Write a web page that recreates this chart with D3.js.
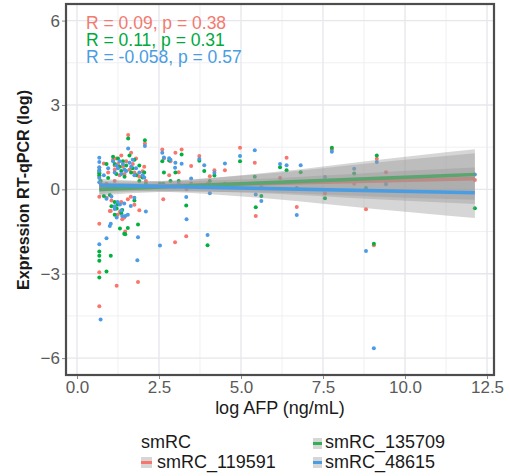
<!DOCTYPE html>
<html>
<head>
<meta charset="utf-8">
<script src="https://cdn.jsdelivr.net/npm/d3@7"></script>
<style>
body { margin: 0; background: #fff; }
text { font-family: 'Liberation Sans', Arial, sans-serif; }
</style>
</head>
<body>
<svg id="chart" width="510" height="476"></svg>
<script>
// Data //
const afp = [12.13, 9.42, 9.14, 9.05, 8.81, 8.45, 7.77, 7.56, 6.82, 6.70, 6.39, 6.19, 5.62, 5.42, 5.45,
    4.97, 4.51, 4.19, 4.05, 3.98, 3.88, 3.73, 3.48, 3.33, 3.34, 3.19, 3.00, 2.99, 3.10, 2.81,
    2.60, 2.63, 2.53, 2.10, 2.07, 1.90, 1.86, 1.84, 1.56, 1.64, 1.55, 1.47, 1.44, 1.38, 1.31,
    1.24, 1.21, 1.15, 1.03, 1.00, 0.90, 0.90, 0.82, 0.68, 0.68, 0.68, 0.68, 0.68, 0.68, 0.72,
    1.10, 1.15, 1.20, 1.25, 1.30, 1.35, 1.40, 1.45, 1.50, 1.60, 1.65, 1.70, 1.75, 1.80, 1.90,
    2.00, 2.05, 2.65, 2.85, 0.68, 0.95, 1.05, 1.35, 1.75, 1.15]

const smRC119591 = [0.33, 0.61, 1.09, -1.99, -0.71, 0.20, 1.42, -0.15, 0.25, -0.63, 1.12, 0.40, 0.10, 0.95, -0.95,
    1.48, 0.68, 0.68, 0.47, 0.20, 0.10, 1.19, 0.83, -1.67, 0.00, 1.42, 1.30, -1.88, 0.61, 0.50,
    1.42, -0.35, 0.10, 0.30, 1.63, -0.74, -3.29, 0.50, 1.93, -0.26, -0.35, -1.50, -1.00, -1.06, -0.80,
    -0.90, -3.43, 0.30, -0.77, -0.77, 0.20, -0.30, 0.92, -4.16, -2.95, -1.22, 0.77, -0.26, 0.60, 0.20,
    1.05, 0.70, 1.10, 0.90, 0.50, 1.20, 0.80, 0.55, 1.00, 0.70, 1.30, 0.90, 0.60, 1.10, 0.45,
    0.64, 0.80, 1.10, 1.00, 0.45, 0.60, -0.40, -0.45, -0.55, 0.85]

const smRC135709 = [-0.67, 0.27, 1.20, -1.93, 0.05, 0.56, 1.48, -0.32, 0.61, 0.05, 0.68, 0.79, -0.24, 0.45, -0.64,
    1.00, 0.20, 0.49, 0.30, -1.99, 0.65, 1.02, 0.20, -0.57, 0.10, 1.24, 0.60, 0.10, 0.30, 1.03,
    1.00, 0.20, 0.20, 0.20, 1.75, 0.30, -1.25, 0.10, 1.81, 0.10, -1.37, -1.60, -1.58, -0.73, -1.39,
    -0.54, -0.68, -0.45, -2.36, -0.20, -2.92, 0.90, -0.24, -2.21, -3.13, -2.36, -2.54, 0.67, 0.57, 0.30,
    1.16, 0.90, 0.55, 1.10, 0.80, 0.65, 1.00, 0.45, 0.85, 1.20, 0.60, 0.75, 1.05, 0.50, 0.85,
    0.42, 0.60, 0.60, 0.30, 0.50, 0.40, -0.60, -0.85, -0.40, -0.90]

const smRC48615 = [0.53, 0.18, 0.97, -5.65, -2.19, 0.73, 1.34, 0.44, 0.86, -0.91, 0.86, 0.90, -0.41, 1.39, -0.18,
    1.19, 0.92, 0.59, -0.14, -1.62, 0.86, 1.08, 0.39, -0.27, -1.06, 0.91, 0.95, 0.77, 0.20, 1.11,
    1.30, 0.10, -2.00, -0.79, 1.54, 0.10, -1.70, -2.52, 1.45, -0.59, -0.90, -0.95, -0.50, -0.95, -0.54,
    -0.45, -1.00, -0.60, -1.22, -1.30, -1.74, -0.33, 0.50, -1.95, 1.12, 0.97, 0.79, 0.65, 0.40, -4.63,
    1.00, 0.60, 0.85, 0.75, 1.00, 0.55, 0.90, 0.70, 0.65, 0.95, 0.80, 1.05, 0.50, 0.75, 0.60,
    0.50, 0.42, 1.13, 1.05, 0.25, 0.75, -0.25, -0.75, -0.30, -0.70]

const seriesNames = ['smRC_119591', 'smRC_135709', 'smRC_48615']
const seriesValues = [smRC119591, smRC135709, smRC48615]
const pointColors = ['#F8766D', '#00B140', '#4C9BE6']
const lineColors = ['#F8766D', '#33AE55', '#4A9DE2']
const textColors = ['#F27A70', '#00A93E', '#4A9DE2']

// fitted lines and confidence band
const fitAfp = [0.68, 12.13]
const fitStart = [0.07, 0.0, 0.15]
const fitEnd = [0.38, 0.53, -0.12]
const bandAfp = [0.68, 1.2, 1.8, 2.5, 3.5, 4.5, 6, 7.5, 9, 10.5, 12.13]
const bandHalf = [0.24, 0.2, 0.18, 0.18, 0.21, 0.27, 0.37, 0.5, 0.64, 0.77, 0.9]

const corR = ['0.09', '0.11', '-0.058']
const corP = ['0.38', '0.31', '0.57']

const xMajor = [0, 2.5, 5, 7.5, 10, 12.5]
const xMinor = [1.25, 3.75, 6.25, 8.75, 11.25]
const yMajor = [-6, -3, 0, 3, 6]
const yMinor = [-4.5, -1.5, 1.5, 4.5]

// Scales //
const panel = { left: 66, right: 494, top: 4, bottom: 375 }

const x = d3.scaleLinear().domain([-0.335, 12.713]).range([panel.left, panel.right])
const y = d3.scaleLinear().domain([-6.6, 6.59]).range([panel.bottom, panel.top])

const svg = d3.select('#chart')

// Grid //
const grid = svg.append('g')

grid.selectAll('.gx-minor')
    .data(xMinor)
    .enter()
    .append('line')
        .attr('x1', d => x(d)).attr('x2', d => x(d))
        .attr('y1', panel.top).attr('y2', panel.bottom)
        .attr('stroke', '#eeeef2').attr('stroke-width', 0.9)

grid.selectAll('.gy-minor')
    .data(yMinor)
    .enter()
    .append('line')
        .attr('x1', panel.left).attr('x2', panel.right)
        .attr('y1', d => y(d)).attr('y2', d => y(d))
        .attr('stroke', '#eeeef2').attr('stroke-width', 0.9)

grid.selectAll('.gx-major')
    .data(xMajor)
    .enter()
    .append('line')
        .attr('x1', d => x(d)).attr('x2', d => x(d))
        .attr('y1', panel.top).attr('y2', panel.bottom)
        .attr('stroke', '#e6e6ec').attr('stroke-width', 1.3)

grid.selectAll('.gy-major')
    .data(yMajor)
    .enter()
    .append('line')
        .attr('x1', panel.left).attr('x2', panel.right)
        .attr('y1', d => y(d)).attr('y2', d => y(d))
        .attr('stroke', '#e6e6ec').attr('stroke-width', 1.3)

// Points //
seriesValues.forEach((values, i) => {
    svg.append('g')
        .selectAll('circle')
        .data(afp.map((a, j) => [a, values[j]]))
        .enter()
        .append('circle')
            .attr('cx', d => x(d[0]))
            .attr('cy', d => y(d[1]))
            .attr('r', 2)
            .attr('fill', pointColors[i])
})

// Smooths: ribbon then line, per group //
const area = d3.area()
    .x(d => x(d.afp))
    .y0(d => y(d.lo))
    .y1(d => y(d.hi))
    .curve(d3.curveMonotoneX)

const fitAt = (i, a) => fitStart[i] + (fitEnd[i] - fitStart[i]) * (a - fitAfp[0]) / (fitAfp[1] - fitAfp[0])

seriesValues.forEach((values, i) => {
    const band = bandAfp.map((a, j) => ({
        afp: a,
        lo: fitAt(i, a) - bandHalf[j],
        hi: fitAt(i, a) + bandHalf[j],
    }))

    svg.append('path')
        .datum(band)
        .attr('d', area)
        .attr('fill', '#999999')
        .attr('fill-opacity', 0.4)

    svg.append('line')
        .attr('x1', x(fitAfp[0])).attr('x2', x(fitAfp[1]))
        .attr('y1', y(fitStart[i])).attr('y2', y(fitEnd[i]))
        .attr('stroke', lineColors[i])
        .attr('stroke-width', 3.6)
})

// Annotation //
svg.selectAll('.cor')
    .data(corR)
    .enter()
    .append('text')
        .attr('x', 86)
        .attr('y', (d, i) => 29 + i * 17.2)
        .attr('font-size', 17.5)
        .attr('fill', (d, i) => textColors[i])
        .text((d, i) => `R = ${d}, p = ${corP[i]}`)

// Panel border //
svg.append('rect')
    .attr('x', panel.left)
    .attr('y', panel.top)
    .attr('width', panel.right - panel.left)
    .attr('height', panel.bottom - panel.top)
    .attr('fill', 'none')
    .attr('stroke', '#4d4d4d')
    .attr('stroke-width', 2.2)

// Axes //
const styleAxis = g => {
    g.select('.domain').remove()
    g.selectAll('.tick line').attr('stroke', '#8a8a8a')
    g.selectAll('.tick text')
        .attr('fill', '#5a5a5a')
        .attr('font-size', 17)
        .attr('font-family', "'Liberation Sans', Arial, sans-serif")
}

svg.append('g')
    .attr('transform', `translate(0,${panel.bottom + 1})`)
    .call(d3.axisBottom(x).tickValues(xMajor).tickFormat(d3.format('.1f')).tickSize(3).tickPadding(2))
    .call(styleAxis)

svg.append('g')
    .attr('transform', `translate(${panel.left - 1},0)`)
    .call(d3.axisLeft(y).tickValues(yMajor).tickFormat(d3.format('d')).tickSize(3).tickPadding(2))
    .call(styleAxis)

svg.append('text')
    .attr('x', 280)
    .attr('y', 414)
    .attr('text-anchor', 'middle')
    .attr('font-size', 18)
    .attr('fill', '#1a1a1a')
    .text('log AFP (ng/mL)')

svg.append('text')
    .attr('transform', `translate(29,190) rotate(-90)`)
    .attr('text-anchor', 'middle')
    .attr('font-size', 17)
    .attr('font-weight', 'bold')
    .attr('fill', '#1a1a1a')
    .attr('textLength', 200)
    .attr('lengthAdjust', 'spacingAndGlyphs')
    .text('Expression RT-qPCR (log)')

// Legend //
const legend = svg.append('g')

legend.append('text')
    .attr('x', 141)
    .attr('y', 448)
    .attr('font-size', 18)
    .attr('fill', '#1a1a1a')
    .text('smRC')

const legendItems = [
    { key: [141, 457, 11], text: [157, 468] },
    { key: [313, 438, 9], text: [325, 448] },
    { key: [313, 457, 9], text: [325, 468] },
]

legendItems.forEach((item, i) => {
    const [kx, ky, kw] = item.key
    legend.append('rect')
        .attr('x', kx).attr('y', ky)
        .attr('width', kw).attr('height', 11)
        .attr('fill', '#d6d6d6')
    legend.append('line')
        .attr('x1', kx).attr('x2', kx + kw)
        .attr('y1', ky + 5.5).attr('y2', ky + 5.5)
        .attr('stroke', lineColors[i])
        .attr('stroke-width', 3)
    legend.append('text')
        .attr('x', item.text[0])
        .attr('y', item.text[1])
        .attr('font-size', 18)
        .attr('fill', '#1a1a1a')
        .text(seriesNames[i])
})
</script>
</body>
</html>
